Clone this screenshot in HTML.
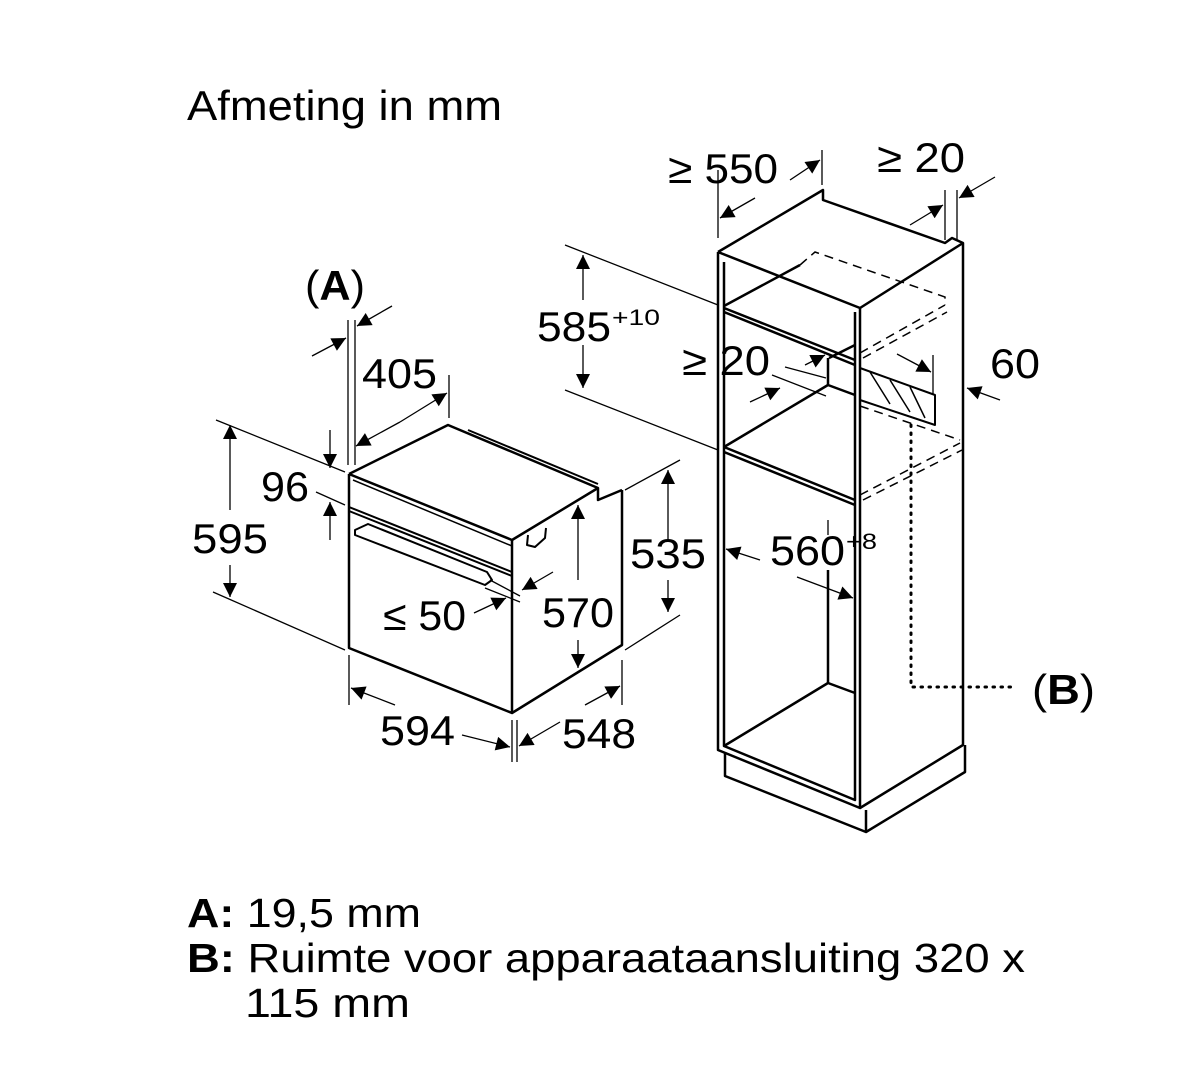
<!DOCTYPE html>
<html><head><meta charset="utf-8"><style>
html,body{margin:0;padding:0;background:#fff;width:1202px;height:1066px;overflow:hidden}
svg{display:block}
text{font-family:"Liberation Sans",sans-serif;fill:#000}
</style></head><body>
<svg width="1202" height="1066" viewBox="0 0 1202 1066" xmlns="http://www.w3.org/2000/svg">
<defs>
<marker id="a" viewBox="0 0 10 10" refX="10" refY="5" markerWidth="22" markerHeight="14" markerUnits="userSpaceOnUse" orient="auto"><path d="M0,0L10,5L0,10z" fill="#000"/></marker>
</defs>
<text x="187" y="120" font-size="42" textLength="315" lengthAdjust="spacingAndGlyphs">Afmeting in mm</text>

<g fill="none" stroke="#000" stroke-width="2.5" stroke-linejoin="round">
<path d="M349,474 L349,648 L512,713 L622,645 L622,490"/>
<path d="M349,474 L448,425 L598,488 L598,500 L622,490"/>
<path d="M349,474 L512,540 L598,488"/>
<path d="M512,540 L512,713"/>
<path d="M353,480 L512,546" stroke-width="1.5"/>
<path d="M349,507 L512,572 M349,511 L512,576" stroke-width="2"/>
<path d="M468,430 L598,484" stroke-width="2"/>
<path d="M355,530 L368,524 L487,572 L492,580 L485,585 L355,535 Z" stroke-width="2"/>
<path d="M528,535 L527,545 L535,547 L545,538 L546,528" stroke-width="2"/>
</g>

<g fill="none" stroke="#000" stroke-width="2.5" stroke-linejoin="round">
<path d="M718,252 L718,750 L860,808 L860,308 L718,252"/>
<path d="M718,252 L823,190 L823,200 L945,243 L952,238 L963,243 L963,745 L860,808"/>
<path d="M860,308 L963,243"/>
<path d="M724,262 L724,746 L855,800 L855,312"/>
<path d="M724,308 L855,360 M724,312 L855,365"/>
<path d="M724,306 L800,265"/>
<path d="M724,447 L855,500 M724,452 L855,505"/>
<path d="M724,447 L828,385"/>
<path d="M828,358 L828,385 L855,395"/>
<path d="M829,358 L855,345"/>
<path d="M725,752 L725,776 L866,832 L965,772 L965,745"/>
<path d="M866,810 L866,832"/>
<path d="M724,746 L828,683 L855,693"/>
<path d="M828,683 L828,570"/>
<path d="M860,368 L935,395 L935,425 L860,400 Z" stroke-width="2"/>
<path d="M870,372 L890,404 M890,380 L910,412 M910,387 L925,418" stroke-width="1.5"/>
</g>
<g fill="none" stroke="#000" stroke-width="1.5" stroke-dasharray="9,6">
<path d="M800,265 L815,252 L945,297 L945,305"/>
<path d="M860,353 L945,305 M863,358 L947,312"/>
<path d="M860,406 L960,440 M860,495 L960,443 M863,500 L962,450"/>
</g>
<path d="M911,425 L911,687 L1015,687" fill="none" stroke="#000" stroke-width="3" stroke-dasharray="1.5,6.5" stroke-linecap="round"/>

<g fill="none" stroke="#000" stroke-width="1.3">
<path d="M216,420 L345,472 M213,592 L345,650"/>
<path d="M230,510 L230,425" marker-end="url(#a)"/>
<path d="M230,565 L230,597" marker-end="url(#a)"/>
<path d="M330,430 L330,468" marker-end="url(#a)"/>
<path d="M330,540 L330,502" marker-end="url(#a)"/>
<path d="M316,492 L345,505"/>
<path d="M348,320 L348,465 M355,320 L355,465"/>
<path d="M312,356 L346,338" marker-end="url(#a)"/>
<path d="M392,306 L357,326" marker-end="url(#a)"/>
<path d="M400,422 L356,446" marker-end="url(#a)"/>
<path d="M400,422 L447,393" marker-end="url(#a)"/>
<path d="M449,375 L449,418"/>
<path d="M625,490 L680,460 M625,650 L680,615"/>
<path d="M668,540 L668,470" marker-end="url(#a)"/>
<path d="M668,580 L668,612" marker-end="url(#a)"/>
<path d="M578,580 L578,505" marker-end="url(#a)"/>
<path d="M578,640 L578,668" marker-end="url(#a)"/>
<path d="M490,580 L520,596 M485,588 L520,602"/>
<path d="M553,572 L522,590" marker-end="url(#a)"/>
<path d="M474,613 L506,598" marker-end="url(#a)"/>
<path d="M349,655 L349,705 M512,720 L512,762 M517,720 L517,762 M622,660 L622,705"/>
<path d="M395,705 L351,688" marker-end="url(#a)"/>
<path d="M462,735 L510,747" marker-end="url(#a)"/>
<path d="M560,722 L519,746" marker-end="url(#a)"/>
<path d="M585,705 L620,686" marker-end="url(#a)"/>
<path d="M718,238 L718,170 M822,185 L822,150"/>
<path d="M755,198 L720,218" marker-end="url(#a)"/>
<path d="M790,180 L820,160" marker-end="url(#a)"/>
<path d="M945,190 L945,240 M957,190 L957,240"/>
<path d="M910,225 L943,205" marker-end="url(#a)"/>
<path d="M995,177 L959,198" marker-end="url(#a)"/>
<path d="M565,245 L718,305 M565,390 L718,450"/>
<path d="M583,300 L583,255" marker-end="url(#a)"/>
<path d="M583,345 L583,388" marker-end="url(#a)"/>
<path d="M785,367 L826,378 M772,375 L826,396"/>
<path d="M805,365 L825,355" marker-end="url(#a)"/>
<path d="M750,402 L780,388" marker-end="url(#a)"/>
<path d="M897,354 L931,372" marker-end="url(#a)"/>
<path d="M933,355 L933,395"/>
<path d="M1000,400 L967,388" marker-end="url(#a)"/>
<path d="M760,560 L726,549" marker-end="url(#a)"/>
<path d="M797,577 L853,598" marker-end="url(#a)"/>
<path d="M828,520 L828,535 M828,575 L828,590"/>
</g>

<g font-size="42">
<text x="305" y="300" textLength="60" lengthAdjust="spacingAndGlyphs">(<tspan font-weight="bold">A</tspan>)</text>
<text x="362" y="388" textLength="75" lengthAdjust="spacingAndGlyphs">405</text>
<text x="261" y="501" textLength="48" lengthAdjust="spacingAndGlyphs">96</text>
<text x="192" y="553" textLength="76" lengthAdjust="spacingAndGlyphs">595</text>
<text x="383" y="630" textLength="83" lengthAdjust="spacingAndGlyphs">≤ 50</text>
<text x="542" y="627" textLength="72" lengthAdjust="spacingAndGlyphs">570</text>
<text x="630" y="568" textLength="76" lengthAdjust="spacingAndGlyphs">535</text>
<text x="380" y="745" textLength="75" lengthAdjust="spacingAndGlyphs">594</text>
<text x="562" y="748" textLength="74" lengthAdjust="spacingAndGlyphs">548</text>
<text x="668" y="183" textLength="110" lengthAdjust="spacingAndGlyphs">≥ 550</text>
<text x="877" y="172" textLength="88" lengthAdjust="spacingAndGlyphs">≥ 20</text>
<text x="537" y="341" textLength="74" lengthAdjust="spacingAndGlyphs">585</text>
<text x="612" y="325" font-size="22" textLength="48" lengthAdjust="spacingAndGlyphs">+10</text>
<text x="682" y="375" textLength="88" lengthAdjust="spacingAndGlyphs">≥ 20</text>
<text x="990" y="378" textLength="50" lengthAdjust="spacingAndGlyphs">60</text>
<text x="770" y="565" textLength="75" lengthAdjust="spacingAndGlyphs">560</text>
<text x="846" y="549" font-size="22" textLength="31" lengthAdjust="spacingAndGlyphs">+8</text>
<text x="1032" y="704" textLength="63" lengthAdjust="spacingAndGlyphs">(<tspan font-weight="bold">B</tspan>)</text>
</g>
<g font-size="41">
<text x="187" y="927" textLength="234" lengthAdjust="spacingAndGlyphs"><tspan font-weight="bold">A:</tspan> 19,5 mm</text>
<text x="187" y="972" textLength="838" lengthAdjust="spacingAndGlyphs"><tspan font-weight="bold">B:</tspan> Ruimte voor apparaataansluiting 320 x</text>
<text x="245" y="1017" textLength="165" lengthAdjust="spacingAndGlyphs">115 mm</text>
</g>
</svg>
</body></html>
